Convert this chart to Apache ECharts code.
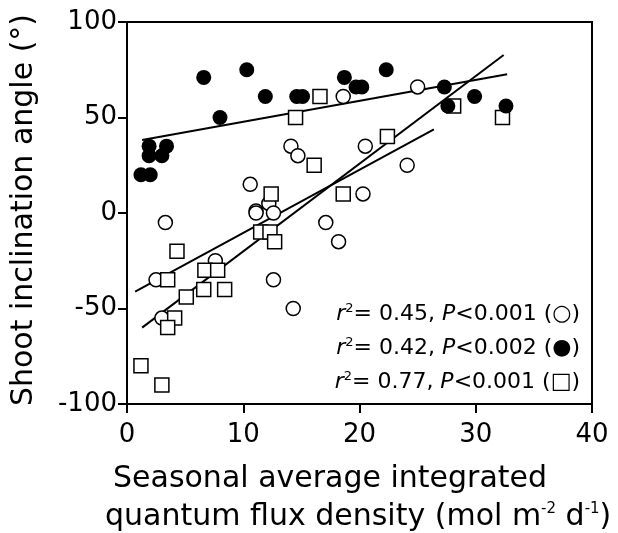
<!DOCTYPE html>
<html>
<head>
<meta charset="utf-8">
<script src="https://cdn.jsdelivr.net/npm/echarts@6/dist/echarts.min.js"></script>
<style>
  html, body { margin: 0; padding: 0; background: #fff; }
  #main { width: 618px; height: 533px; }
</style>
</head>
<body>
<div id="main"></div>
<script>
// filled circles
var filledPts = [[1.2,20],[2.0,20],[1.9,35],[3.4,35],[1.9,30],[3.0,30],[8,50],[6.6,71],[10.3,75],
  [11.9,61],[14.6,61],[15.1,61],[18.7,71],[19.7,66],[20.2,66],[22.3,75],[27.3,66],[27.6,56],[29.9,61],[32.6,56]];
// open circles
var openPts = [[18.6,61],[14.1,35],[14.7,30],[20.5,35],[10.6,15],[20.3,10],[12.2,5],[11.1,1],[25.0,66],
  [24.1,25],[3.3,-5],[11.1,0],[12.6,0],[17.1,-5],[18.2,-15],[7.6,-25],[12.6,-35],[14.3,-50],[2.5,-35],[3.0,-55]];
// open squares
var squarePts = [[16.6,61],[14.5,50],[16.1,25],[12.4,10],[18.6,10],[28.1,56],[32.3,50],[22.4,40],
  [4.3,-20],[3.5,-35],[6.7,-30],[7.8,-30],[6.6,-40],[8.4,-40],[5.1,-44],[4.1,-55],[3.5,-60],[1.2,-80],
  [3.0,-90],[11.5,-10],[12.3,-10],[12.7,-15]];
// regression lines (end points)
var fitFilled = [[1.3,38.2],[32.7,72.6]];
var fitOpen = [[0.7,-41.2],[26.4,43.8]];
var fitSquare = [[1.3,-60],[32.4,82.7]];
var stats = [
  {r2:'0.45', p:'0.001', sym:'○'},
  {r2:'0.42', p:'0.002', sym:'●'},
  {r2:'0.77', p:'0.001', sym:'□'}
];

var font = 'DejaVu Sans';
var ink = '#000';

var myChart = echarts.init(document.getElementById('main'));

function fitLine(d){
  return {
    type:'line', data:d, symbol:'none', z:1, silent:true,
    lineStyle:{color:ink, width:2}
  };
}

var statGraphics = [];
for (var i = 0; i < stats.length; i++) {
  statGraphics.push({
    type:'text', right: 38, top: 302 + i*34,
    style:{
      text:'{i|r}{sup|2}{n|= '+stats[i].r2+', }{i|P}{n|<'+stats[i].p+' ('+stats[i].sym+')}',
      rich:{
        i:{fontFamily:font, fontStyle:'italic', fontSize:22, fill:ink, verticalAlign:'bottom'},
        n:{fontFamily:font, fontSize:22, fill:ink, verticalAlign:'bottom'},
        sup:{fontFamily:font, fontSize:13, fill:ink, verticalAlign:'top', padding:[0,0,10,0]}
      }
    }
  });
}

var option = {
  animation:false,
  backgroundColor:'#fff',
  grid:{left:127, right:26, top:22, bottom:129, show:true, borderColor:ink, borderWidth:2},
  xAxis:{
    type:'value', min:0, max:40, interval:10,
    axisLine:{onZero:false, lineStyle:{color:ink, width:2}},
    axisTick:{show:true, length:9, lineStyle:{color:ink, width:2}},
    axisLabel:{fontFamily:font, fontSize:26, color:ink, margin:18},
    splitLine:{show:false}
  },
  yAxis:{
    type:'value', min:-100, max:100, interval:50,
    axisLine:{show:true, onZero:false, lineStyle:{color:ink, width:2}},
    axisTick:{show:true, length:9, lineStyle:{color:ink, width:2}},
    axisLabel:{fontFamily:font, fontSize:26, color:ink, margin:10},
    splitLine:{show:false}
  },
  graphic:[
    {
      type:'text', x:39, y:210, rotation:Math.PI/2,
      style:{text:'Shoot inclination angle (°)', fontFamily:font, fontSize:30, fill:ink,
        align:'center', verticalAlign:'bottom'}
    },
    {
      type:'text', left:113, top:464,
      style:{text:'Seasonal average integrated', fontFamily:font, fontSize:30, fill:ink}
    },
    {
      type:'text', left:105, top:502,
      style:{
        text:'{n|quantum flux density (mol m}{sup|-2}{n| d}{sup|-1}{n|)}',
        rich:{
          n:{fontFamily:font, fontSize:30, fill:ink, verticalAlign:'bottom'},
          sup:{fontFamily:font, fontSize:15, fill:ink, verticalAlign:'top', padding:[0,0,14,0]}
        }
      }
    }
  ].concat(statGraphics),
  series:[
    fitLine(fitFilled),
    fitLine(fitOpen),
    fitLine(fitSquare),
    {type:'scatter', data:openPts, symbol:'circle', symbolSize:14, z:3,
      itemStyle:{color:'#fff', borderColor:ink, borderWidth:1.5, opacity:1}},
    {type:'scatter', data:squarePts, symbol:'rect', symbolSize:14, z:4,
      itemStyle:{color:'#fff', borderColor:ink, borderWidth:1.5, opacity:1}},
    {type:'scatter', data:filledPts, symbol:'circle', symbolSize:15, z:5,
      itemStyle:{color:ink, borderColor:ink, borderWidth:0, opacity:1}}
  ]
};
myChart.setOption(option);
</script>
</body>
</html>
